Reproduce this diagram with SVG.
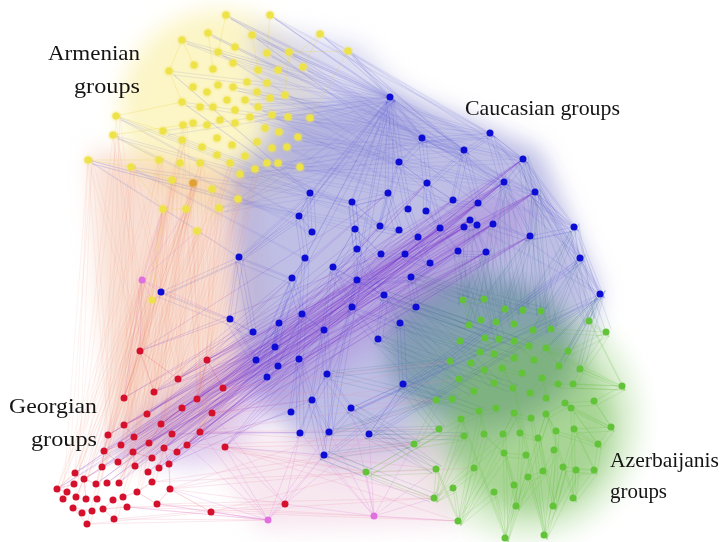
<svg xmlns="http://www.w3.org/2000/svg" xmlns:xlink="http://www.w3.org/1999/xlink" width="723" height="542" viewBox="0 0 723 542">
<defs>
<filter id="haze" x="-30%" y="-30%" width="160%" height="160%"><feGaussianBlur stdDeviation="11"/></filter>
<filter id="glow" x="-50%" y="-50%" width="200%" height="200%"><feGaussianBlur in="SourceGraphic" stdDeviation="1.6" result="b"/><feMerge><feMergeNode in="b"/><feMergeNode in="SourceGraphic"/></feMerge></filter>
<style>
.lbl{font-family:"Liberation Serif","Times New Roman",serif;font-size:22px;fill:#141414}
.e{fill:none;stroke-linecap:round}
.eA{stroke:#7474d6;stroke-opacity:.22;stroke-width:.7}
.eB{stroke:#ee8a70;stroke-opacity:.15;stroke-width:.7}
.eC{stroke:#7a2cc8;stroke-opacity:.22;stroke-width:.8}
.eD{stroke:#3a3ad0;stroke-opacity:.2;stroke-width:.7}
.eE{stroke:#3d6f8f;stroke-opacity:.22;stroke-width:.7}
.eF{stroke:#5cbc34;stroke-opacity:.28;stroke-width:.7}
.eR{stroke:#e02040;stroke-opacity:.3;stroke-width:.7}
.eG{stroke:#eb90a8;stroke-opacity:.3;stroke-width:.7}
.eH{stroke:#e080e0;stroke-opacity:.35;stroke-width:.7}
.eY{stroke:#e8d840;stroke-opacity:.4;stroke-width:.7}
.y circle{fill:#eee24a}
.b circle{fill:#0c0cd4}
.r circle{fill:#d4102c}
.g circle{fill:#62c238}
.p circle{fill:#e070e0}
</style>
</defs>
<rect width="723" height="542" fill="#ffffff"/>
<g id="haze" filter="url(#haze)">
<ellipse cx="220" cy="110" rx="100" ry="100" fill="#faf0a8" opacity=".65"/>
<polygon points="250,25 360,45 420,110 400,170 300,180 260,120" fill="#c4c4ea" opacity=".6"/>
<polygon points="90,150 250,170 270,300 230,420 120,470 100,300" fill="#f4c0a8" opacity=".5"/>
<polygon points="230,170 300,110 390,90 470,120 540,150 600,290 580,400 470,460 330,470 240,380" fill="#a4a4dc" opacity=".7"/>
<ellipse cx="525" cy="420" rx="115" ry="120" fill="#c0e4b0" opacity=".5"/>
<ellipse cx="480" cy="350" rx="95" ry="75" fill="#6a8ea0" opacity=".7"/>
<ellipse cx="530" cy="425" rx="85" ry="90" fill="#7cc060" opacity=".55"/>
<polygon points="200,440 440,430 460,525 260,530" fill="#f0d0e0" opacity=".5"/>
<polygon points="100,450 160,400 480,190 540,200 520,240 200,470" fill="#9a60d0" opacity=".28"/>
</g>
<g id="connectors">
<path id="pY" class="e eY" d="M226 15L218 52M270 15L267 53M182 40L194 65M208 33L213 69M252 35L258 70M320 34L303 67M348 51L310 118M169 71L182 102M116 116L163 131M113 135L159 160M88 160L131 167M131 167L172 180M163 209L186 209M197 231L219 208M152 300L163 209M289 52L285 95M182 40L169 71M116 116L182 102M113 135L183 125M88 160L159 160M131 167L163 209M348 51L289 52M320 34L278 70"/>
<path id="pA" class="e eA" d="M226 15L390 97M226 15L523 159M226 15L422 138M270 15L390 97M270 15L490 133M270 15L574 227M182 40L390 97M182 40L464 150M208 33L422 138M208 33L535 192M252 35L390 97M252 35L523 159M252 35L600 294M320 34L390 97M320 34L490 133M320 34L464 150M348 51L390 97M348 51L523 159M348 51L422 138M348 51L580 258M218 52L399 162M218 52L490 133M267 53L422 138M267 53L535 192M289 52L390 97M289 52L504 182M303 67L464 150M303 67L390 97M303 67L574 227M285 95L422 138M285 95L523 159M310 118L390 97M310 118L490 133M310 118L427 183M298 137L464 150M298 137L399 162M298 137L535 192M287 147L388 193M287 147L422 138M300 167L390 97M300 167L453 200M300 167L523 159M278 163L427 183M278 163L490 133M267 163L380 226M267 163L504 182M255 169L388 193M255 169L422 138M240 174L399 230M240 174L464 150M238 199L380 226M238 199L390 97M219 208L310 193M219 208L422 138M169 71L390 97M169 71L310 193M116 116L310 193M116 116L299 216M113 135L312 232M113 135L352 202M88 160L299 216M88 160L239 257M88 160L355 229M131 167L310 193M131 167L305 258M163 131L390 97M163 131L352 202M182 102L422 138M182 102L310 193M258 107L390 97M258 107L523 159M272 115L464 150M272 115L574 227M250 117L535 192M250 117L390 97M233 87L490 133M233 87L422 138M245 100L600 294M245 100L390 97"/>
<path id="pB" class="e eB" d="M140 351L193 183M140 351L163 209M140 351L142 280M140 351L88 160M178 379L186 209M178 379L219 208M178 379L172 180M178 379L131 167M154 392L197 231M154 392L159 160M154 392L193 183M154 392L113 135M124 398L163 209M124 398L142 280M124 398L182 140M124 398L152 300M207 360L238 199M207 360L212 189M207 360L255 169M207 360L200 163M197 399L219 208M197 399L193 183M197 399L240 174M197 399L183 125M147 414L172 180M147 414L186 209M147 414L116 116M147 414L230 163M124 425L152 300M124 425L197 231M124 425L131 167M124 425L163 209M108 435L142 280M108 435L193 183M108 435L88 160M108 435L159 160M161 424L212 189M161 424L163 209M161 424L182 140M161 424L238 199M200 432L197 231M200 432L219 208M200 432L255 169M200 432L186 209M134 437L172 180M134 437L113 135M134 437L193 183M134 437L230 163M121 445L163 209M121 445L152 300M121 445L200 163M104 451L142 280M104 451L186 209M104 451L116 116M102 467L193 183M102 467L131 167M102 467L197 231M75 473L142 280M75 473L163 209M75 473L88 160M84 479L172 180M84 479L152 300M84 479L182 140M74 484L193 183M74 484L113 135M57 489L142 280M57 489L159 160M57 489L163 209M63 499L186 209M63 499L88 160M73 508L197 231M73 508L131 167M87 524L163 209M87 524L172 180M114 519L193 183M114 519L219 208M96 484L142 280M96 484L200 163M119 483L212 189M119 483L183 125M152 482L238 199M152 482L197 231M137 492L186 209M137 492L240 174"/>
<path id="pC" class="e eC" d="M207 360L504 182M207 360L470 220M207 360L535 192M207 360L418 237M223 388L523 159M223 388L493 224M223 388L440 228M223 388L486 252M197 399L478 203M197 399L530 236M197 399L464 227M197 399L405 254M212 413L504 182M212 413L453 200M212 413L486 252M212 413L380 226M200 432L535 192M200 432L470 220M200 432L458 251M200 432L427 183M225 447L523 159M225 447L493 224M225 447L418 237M225 447L399 230M187 445L504 182M187 445L478 203M187 445L440 228M187 445L530 236M178 379L470 220M178 379L427 183M178 379L535 192M178 379L388 193M182 408L493 224M182 408L523 159M182 408L405 254M182 408L464 227M161 424L504 182M161 424L486 252M161 424L453 200M161 424L418 237M172 434L535 192M172 434L470 220M172 434L440 228M172 434L478 203M164 448L530 236M164 448L523 159M164 448L464 227M164 448L399 230M169 464L493 224M169 464L504 182M169 464L458 251M169 464L427 183M159 468L478 203M159 468L535 192M159 468L418 237M159 468L380 226M154 392L523 159M154 392L470 220M154 392L388 193M154 392L486 252M147 414L504 182M147 414L464 227M147 414L440 228M147 414L453 200M149 443L493 224M149 443L530 236M149 443L405 254M149 443L427 183M134 437L535 192M134 437L478 203M134 437L418 237M134 437L458 251M121 445L523 159M121 445L470 220M121 445L399 230M133 452L504 182M133 452L486 252M133 452L440 228M118 462L493 224M118 462L464 227M118 462L453 200M104 451L535 192M104 451L478 203M104 451L380 226M102 467L530 236M102 467L470 220M102 467L418 237M75 473L523 159M75 473L504 182M75 473L458 251M57 489L493 224M57 489L464 227M84 479L535 192M84 479L486 252M96 484L478 203M96 484L440 228M107 483L504 182M107 483L470 220M119 483L523 159M119 483L427 183M140 351L470 220M140 351L388 193M124 398L504 182M124 398L453 200M124 425L493 224M124 425L405 254M108 435L535 192M108 435L464 227M152 458L523 159M152 458L478 203M177 452L504 182M177 452L530 236M135 466L470 220M135 466L486 252M148 472L493 224M148 472L440 228M207 360L292 278M207 360L302 314M223 388L279 323M223 388L324 330M197 399L299 359M212 413L312 400M200 432L300 433M225 447L324 455M187 445L291 412M178 379L253 332M182 408L256 360M161 424L267 377M140 351L230 319M154 392L275 347M172 434L329 432M169 464L312 400"/>
<path id="pD" class="e eD" d="M390 97L422 138M390 97L399 162M390 97L388 193M390 97L310 193M390 97L352 202M390 97L464 150M422 138L490 133M422 138L464 150M422 138L427 183M422 138L399 162M422 138L504 182M490 133L523 159M490 133L464 150M490 133L535 192M490 133L504 182M523 159L535 192M523 159L574 227M523 159L504 182M523 159L600 294M535 192L574 227M535 192L580 258M535 192L530 236M535 192L600 294M574 227L580 258M574 227L600 294M574 227L530 236M464 150L453 200M464 150L478 203M464 150L427 183M399 162L408 209M399 162L380 226M399 162L427 183M427 183L426 211M427 183L440 228M427 183L453 200M504 182L493 224M504 182L478 203M504 182L530 236M388 193L380 226M388 193L399 230M388 193L352 202M310 193L352 202M310 193L299 216M310 193L312 232M310 193L239 257M352 202L355 229M352 202L357 249M352 202L380 226M299 216L312 232M299 216L305 258M299 216L239 257M355 229L357 249M355 229L333 267M355 229L381 254M357 249L357 280M357 249L333 267M357 249L384 295M239 257L230 319M239 257L253 332M239 257L292 278M305 258L292 278M305 258L302 314M305 258L279 323M333 267L352 307M333 267L324 330M333 267L357 280M292 278L302 314M292 278L256 360M292 278L275 347M357 280L352 307M357 280L384 295M357 280L411 277M302 314L324 330M302 314L299 359M302 314L278 366M279 323L275 347M279 323L267 377M279 323L256 360M352 307L327 374M352 307L378 339M352 307L400 323M324 330L327 374M324 330L312 400M324 330L299 359M299 359L291 412M299 359L312 400M299 359L300 433M327 374L351 408M327 374L329 432M327 374L312 400M312 400L329 432M312 400L324 455M312 400L300 433M351 408L369 434M351 408L329 432M351 408L403 384M384 295L416 307M384 295L400 323M384 295L378 339M411 277L416 307M411 277L430 263M411 277L458 251M400 323L403 384M400 323L378 339M403 384L369 434M403 384L351 408M230 319L253 332M230 319L256 360M230 319L161 292M161 292L239 257M390 97L299 216M390 97L305 258M390 97L324 455M600 294L403 384M600 294L369 434M580 258L403 384M580 258L324 455M426 211L440 228M408 209L418 237M470 220L486 252M493 224L530 236M453 200L478 203M405 254L430 263M381 254L405 254M458 251L486 252M464 227L477 225M440 228L458 251M418 237L430 263M380 226L399 230"/>
<path id="pE" class="e eE" d="M411 277L463 300M411 277L505 309M411 277L541 311M384 295L469 325M384 295L514 341M384 295L459 379M416 307L485 338M416 307L529 346M416 307L494 383M400 323L450 361M400 323L480 352M400 323L514 358M378 339L436 400M378 339L474 391M378 339L513 388M403 384L452 399M403 384L479 411M403 384L439 429M369 434L464 436M369 434L414 444M369 434L436 469M600 294L589 321M600 294L568 351M600 294L580 369M600 294L546 348M600 294L559 366M580 258L551 329M580 258L533 330M580 258L606 332M574 227L541 311M574 227L589 321M574 227L523 310M530 236L484 299M530 236L505 309M530 236L523 310M486 252L463 300M486 252L469 325M486 252L496 322M458 251L463 300M458 251L481 320M493 224L514 324M493 224L484 299M535 192L551 329M535 192L541 311M523 159L541 311M523 159L589 321M504 182L523 310M504 182L505 309M470 220L499 339M470 220L463 300M351 408L414 444M351 408L436 469M324 455L366 472M324 455L414 444M324 455L434 498M329 432L436 400M329 432L439 429M327 374L450 361M327 374L436 400"/>
<path id="pF" class="e eF" d="M458 521L494 492M458 521L504 453M458 521L474 468M458 521L514 413M458 521L479 411M458 521L436 469M505 538L514 485M505 538L526 455M505 538L494 492M505 538L546 414M505 538L503 434M505 538L461 419M544 535L528 477M544 535L554 450M544 535L563 467M544 535L531 418M544 535L576 470M544 535L513 388M434 498L474 468M434 498L464 436M434 498L503 434M434 498L436 469M434 498L461 419M516 506L528 477M516 506L543 471M516 506L504 453M516 506L520 433M553 506L563 467M553 506L556 431M553 506L574 429M553 506L538 438M573 498L576 470M573 498L594 470M573 498L571 408M573 498L546 414M622 386L589 321M622 386L580 369M622 386L573 384M622 386L594 401M622 386L558 384M622 386L546 348M611 427L594 401M611 427L571 408M611 427L598 444M611 427L565 403M611 427L574 429M606 332L589 321M606 332L568 351M606 332L551 329M606 332L580 369M598 444L574 429M598 444L556 431M598 444L594 470M598 444L571 408M594 470L576 470M594 470L563 467M594 470L574 429M366 472L414 444M366 472L436 469M366 472L434 498M366 472L439 429M414 444L439 429M414 444L464 436M414 444L436 400M414 444L461 419M436 400L452 399M436 400L459 379M436 400L474 391M436 400L450 361M463 300L484 299M463 300L469 325M463 300L481 320M505 309L496 322M505 309L514 324M505 309L523 310M541 311L533 330M541 311L551 329M485 338L499 339M485 338L494 354M485 338L471 363M514 341L529 346M514 341L514 358M514 341L534 360M546 348L568 351M546 348L559 366M546 348L534 360M459 379L484 370M459 379L474 391M459 379L452 399M502 368L522 373M502 368L513 388M502 368L494 383M542 378L558 384M542 378L546 398M542 378L530 393M479 411L496 408M479 411L484 434M479 411L461 419M514 413L531 418M514 413L520 433M514 413L503 434M546 414L556 431M546 414L538 438M546 414L565 403M504 453L526 455M504 453L514 485M504 453L484 434M543 471L554 450M543 471L528 477M543 471L538 438M458 521L453 488M453 488L434 498M474 468L484 434M520 433L538 438M580 369L573 384M594 401L565 403"/>
<path id="pR" class="e eR" d="M57 489L67 492M57 489L74 484M57 489L63 499M57 489L75 473M84 479L96 484M84 479L76 497M84 479L86 499M84 479L102 467M104 451L118 462M104 451L108 435M104 451L121 445M104 451L102 467M133 452L135 466M133 452L152 458M133 452L149 443M133 452L119 483M164 448L177 452M164 448L159 468M164 448L169 464M164 448L172 434M187 445L200 432M187 445L177 452M187 445L212 413M140 351L154 392M140 351L178 379M140 351L124 398M207 360L223 388M207 360L197 399M207 360L178 379M124 425L134 437M124 425L147 414M124 425L108 435M161 424L172 434M161 424L182 408M161 424L149 443M73 508L82 513M73 508L92 511M73 508L87 524M103 509L113 500M103 509L127 507M103 509L114 519M137 492L152 482M137 492L157 504M137 492L123 497M170 489L169 464M170 489L157 504M170 489L211 512"/>
<path id="pG" class="e eG" d="M225 447L414 444M225 447L436 469M225 447L366 472M225 447L434 498M225 447L458 521M211 512L366 472M211 512L434 498M211 512L458 521M170 489L414 444M170 489L436 400M170 489L366 472M170 489L285 504M157 504L434 498M157 504L458 521M157 504L268 520M200 432L436 400M200 432L439 429M200 432L414 444M212 413L459 379M212 413L450 361M212 413L436 400M187 445L464 436M187 445L366 472M127 507L285 504M127 507L268 520M127 507L374 516M114 519L268 520M114 519L285 504M87 524L268 520M87 524L211 512M152 482L414 444M152 482L474 468M223 388L450 361M223 388L436 400"/>
<path id="pH" class="e eH" d="M268 520L225 447M268 520L200 432M268 520L285 504M268 520L211 512M268 520L170 489M268 520L324 455M268 520L300 433M268 520L329 432M268 520L157 504M268 520L127 507M268 520L187 445M374 516L324 455M374 516L369 434M374 516L329 432M374 516L366 472M374 516L414 444M374 516L434 498M374 516L436 469M374 516L285 504M374 516L300 433M374 516L351 408M374 516L458 521M285 504L324 455M285 504L300 433M285 504L369 434M285 504L225 447M285 504L212 413M142 280L161 292M142 280L152 300M142 280L140 351M142 280L124 398M142 280L163 209M142 280L186 209M142 280L197 231M142 280L230 319"/>
<use xlink:href="#pD" transform="translate(4,3)"/>
<use xlink:href="#pD" transform="translate(-3,5)"/>
<use xlink:href="#pE" transform="translate(5,-3)"/>
<use xlink:href="#pE" transform="translate(-4,4)"/>
<use xlink:href="#pF" transform="translate(3,4)"/>
<use xlink:href="#pA" transform="translate(5,4)"/>
<use xlink:href="#pB" transform="translate(4,-2)"/>
</g>
<g id="armenian-nodes" class="y" filter="url(#glow)">
<circle cx="226" cy="15" r="3.6"/><circle cx="270" cy="15" r="3.6"/><circle cx="182" cy="40" r="3.6"/><circle cx="208" cy="33" r="3.6"/><circle cx="252" cy="35" r="3.6"/><circle cx="320" cy="34" r="3.6"/><circle cx="348" cy="51" r="3.6"/><circle cx="218" cy="52" r="3.6"/><circle cx="235" cy="47" r="3.6"/><circle cx="267" cy="53" r="3.6"/><circle cx="289" cy="52" r="3.6"/><circle cx="169" cy="71" r="3.6"/><circle cx="194" cy="65" r="3.6"/><circle cx="213" cy="69" r="3.6"/><circle cx="233" cy="63" r="3.6"/><circle cx="258" cy="70" r="3.6"/><circle cx="278" cy="70" r="3.6"/><circle cx="303" cy="67" r="3.6"/><circle cx="193" cy="87" r="3.6"/><circle cx="207" cy="92" r="3.6"/><circle cx="218" cy="85" r="3.6"/><circle cx="233" cy="87" r="3.6"/><circle cx="247" cy="82" r="3.6"/><circle cx="257" cy="92" r="3.6"/><circle cx="267" cy="83" r="3.6"/><circle cx="285" cy="95" r="3.6"/><circle cx="182" cy="102" r="3.6"/><circle cx="200" cy="107" r="3.6"/><circle cx="213" cy="107" r="3.6"/><circle cx="227" cy="100" r="3.6"/><circle cx="235" cy="110" r="3.6"/><circle cx="245" cy="100" r="3.6"/><circle cx="258" cy="107" r="3.6"/><circle cx="270" cy="98" r="3.6"/><circle cx="272" cy="115" r="3.6"/><circle cx="288" cy="117" r="3.6"/><circle cx="310" cy="118" r="3.6"/><circle cx="116" cy="116" r="3.6"/><circle cx="113" cy="135" r="3.6"/><circle cx="163" cy="131" r="3.6"/><circle cx="183" cy="125" r="3.6"/><circle cx="193" cy="123" r="3.6"/><circle cx="207" cy="125" r="3.6"/><circle cx="220" cy="120" r="3.6"/><circle cx="235" cy="123" r="3.6"/><circle cx="250" cy="117" r="3.6"/><circle cx="265" cy="128" r="3.6"/><circle cx="279" cy="132" r="3.6"/><circle cx="298" cy="137" r="3.6"/><circle cx="182" cy="140" r="3.6"/><circle cx="202" cy="147" r="3.6"/><circle cx="217" cy="138" r="3.6"/><circle cx="232" cy="145" r="3.6"/><circle cx="257" cy="142" r="3.6"/><circle cx="272" cy="148" r="3.6"/><circle cx="287" cy="147" r="3.6"/><circle cx="88" cy="160" r="3.6"/><circle cx="131" cy="167" r="3.6"/><circle cx="159" cy="160" r="3.6"/><circle cx="180" cy="163" r="3.6"/><circle cx="200" cy="163" r="3.6"/><circle cx="217" cy="155" r="3.6"/><circle cx="230" cy="163" r="3.6"/><circle cx="245" cy="156" r="3.6"/><circle cx="267" cy="163" r="3.6"/><circle cx="278" cy="163" r="3.6"/><circle cx="300" cy="167" r="3.6"/><circle cx="172" cy="180" r="3.6"/><circle cx="212" cy="189" r="3.6"/><circle cx="240" cy="174" r="3.6"/><circle cx="255" cy="169" r="3.6"/><circle cx="163" cy="209" r="3.6"/><circle cx="186" cy="209" r="3.6"/><circle cx="219" cy="208" r="3.6"/><circle cx="238" cy="199" r="3.6"/><circle cx="197" cy="231" r="3.6"/><circle cx="152" cy="300" r="3.3"/>
<circle cx="193" cy="183" r="3.6" style="fill:#e0a030"/>
</g>
<g id="caucasian-nodes" class="b">
<circle cx="390" cy="97" r="3.5"/><circle cx="422" cy="138" r="3.5"/><circle cx="490" cy="133" r="3.5"/><circle cx="464" cy="150" r="3.5"/><circle cx="523" cy="159" r="3.5"/><circle cx="399" cy="162" r="3.5"/><circle cx="427" cy="183" r="3.5"/><circle cx="504" cy="182" r="3.5"/><circle cx="388" cy="193" r="3.5"/><circle cx="535" cy="192" r="3.5"/><circle cx="453" cy="200" r="3.5"/><circle cx="478" cy="203" r="3.5"/><circle cx="408" cy="209" r="3.5"/><circle cx="426" cy="211" r="3.5"/><circle cx="470" cy="220" r="3.5"/><circle cx="380" cy="226" r="3.5"/><circle cx="399" cy="230" r="3.5"/><circle cx="440" cy="228" r="3.5"/><circle cx="464" cy="227" r="3.5"/><circle cx="477" cy="225" r="3.5"/><circle cx="493" cy="224" r="3.5"/><circle cx="574" cy="227" r="3.5"/><circle cx="418" cy="237" r="3.5"/><circle cx="530" cy="236" r="3.5"/><circle cx="381" cy="254" r="3.5"/><circle cx="405" cy="254" r="3.5"/><circle cx="458" cy="251" r="3.5"/><circle cx="486" cy="252" r="3.5"/><circle cx="580" cy="258" r="3.5"/><circle cx="430" cy="263" r="3.5"/><circle cx="310" cy="193" r="3.5"/><circle cx="352" cy="202" r="3.5"/><circle cx="299" cy="216" r="3.5"/><circle cx="355" cy="229" r="3.5"/><circle cx="312" cy="232" r="3.5"/><circle cx="357" cy="249" r="3.5"/><circle cx="239" cy="257" r="3.5"/><circle cx="305" cy="258" r="3.5"/><circle cx="333" cy="267" r="3.5"/><circle cx="161" cy="292" r="3.5"/><circle cx="292" cy="278" r="3.5"/><circle cx="357" cy="280" r="3.5"/><circle cx="230" cy="319" r="3.5"/><circle cx="302" cy="314" r="3.5"/><circle cx="279" cy="323" r="3.5"/><circle cx="352" cy="307" r="3.5"/><circle cx="253" cy="332" r="3.5"/><circle cx="324" cy="330" r="3.5"/><circle cx="275" cy="347" r="3.5"/><circle cx="256" cy="360" r="3.5"/><circle cx="299" cy="359" r="3.5"/><circle cx="278" cy="366" r="3.5"/><circle cx="267" cy="377" r="3.5"/><circle cx="327" cy="374" r="3.5"/><circle cx="312" cy="400" r="3.5"/><circle cx="351" cy="408" r="3.5"/><circle cx="291" cy="412" r="3.5"/><circle cx="300" cy="433" r="3.5"/><circle cx="329" cy="432" r="3.5"/><circle cx="324" cy="455" r="3.5"/><circle cx="411" cy="277" r="3.5"/><circle cx="384" cy="295" r="3.5"/><circle cx="416" cy="307" r="3.5"/><circle cx="400" cy="323" r="3.5"/><circle cx="378" cy="339" r="3.5"/><circle cx="403" cy="384" r="3.5"/><circle cx="369" cy="434" r="3.5"/><circle cx="600" cy="294" r="3.5"/>
</g>
<g id="georgian-nodes" class="r">
<circle cx="140" cy="351" r="3.5"/><circle cx="207" cy="360" r="3.5"/><circle cx="178" cy="379" r="3.5"/><circle cx="154" cy="392" r="3.5"/><circle cx="124" cy="398" r="3.5"/><circle cx="223" cy="388" r="3.5"/><circle cx="197" cy="399" r="3.5"/><circle cx="182" cy="408" r="3.5"/><circle cx="147" cy="414" r="3.5"/><circle cx="212" cy="413" r="3.5"/><circle cx="124" cy="425" r="3.5"/><circle cx="161" cy="424" r="3.5"/><circle cx="172" cy="434" r="3.5"/><circle cx="108" cy="435" r="3.5"/><circle cx="134" cy="437" r="3.5"/><circle cx="200" cy="432" r="3.5"/><circle cx="121" cy="445" r="3.5"/><circle cx="149" cy="443" r="3.5"/><circle cx="164" cy="448" r="3.5"/><circle cx="187" cy="445" r="3.5"/><circle cx="225" cy="447" r="3.5"/><circle cx="104" cy="451" r="3.5"/><circle cx="133" cy="452" r="3.5"/><circle cx="177" cy="452" r="3.5"/><circle cx="118" cy="462" r="3.5"/><circle cx="152" cy="458" r="3.5"/><circle cx="102" cy="467" r="3.5"/><circle cx="135" cy="466" r="3.5"/><circle cx="159" cy="468" r="3.5"/><circle cx="169" cy="464" r="3.5"/><circle cx="148" cy="472" r="3.5"/><circle cx="75" cy="473" r="3.5"/><circle cx="84" cy="479" r="3.5"/><circle cx="74" cy="484" r="3.5"/><circle cx="96" cy="484" r="3.5"/><circle cx="107" cy="483" r="3.5"/><circle cx="119" cy="483" r="3.5"/><circle cx="152" cy="482" r="3.5"/><circle cx="170" cy="489" r="3.5"/><circle cx="57" cy="489" r="3.5"/><circle cx="67" cy="492" r="3.5"/><circle cx="137" cy="492" r="3.5"/><circle cx="63" cy="499" r="3.5"/><circle cx="76" cy="497" r="3.5"/><circle cx="86" cy="499" r="3.5"/><circle cx="97" cy="499" r="3.5"/><circle cx="113" cy="500" r="3.5"/><circle cx="123" cy="497" r="3.5"/><circle cx="157" cy="504" r="3.5"/><circle cx="73" cy="508" r="3.5"/><circle cx="82" cy="513" r="3.5"/><circle cx="92" cy="511" r="3.5"/><circle cx="103" cy="509" r="3.5"/><circle cx="127" cy="507" r="3.5"/><circle cx="211" cy="512" r="3.5"/><circle cx="285" cy="504" r="3.5"/><circle cx="87" cy="524" r="3.5"/><circle cx="114" cy="519" r="3.5"/>
</g>
<g id="azerbaijani-nodes" class="g">
<circle cx="463" cy="300" r="3.5"/><circle cx="484" cy="299" r="3.5"/><circle cx="505" cy="309" r="3.5"/><circle cx="523" cy="310" r="3.5"/><circle cx="541" cy="311" r="3.5"/><circle cx="469" cy="325" r="3.5"/><circle cx="481" cy="320" r="3.5"/><circle cx="496" cy="322" r="3.5"/><circle cx="514" cy="324" r="3.5"/><circle cx="533" cy="330" r="3.5"/><circle cx="551" cy="329" r="3.5"/><circle cx="589" cy="321" r="3.5"/><circle cx="606" cy="332" r="3.5"/><circle cx="460" cy="341" r="3.5"/><circle cx="485" cy="338" r="3.5"/><circle cx="499" cy="339" r="3.5"/><circle cx="514" cy="341" r="3.5"/><circle cx="529" cy="346" r="3.5"/><circle cx="546" cy="348" r="3.5"/><circle cx="568" cy="351" r="3.5"/><circle cx="450" cy="361" r="3.5"/><circle cx="471" cy="363" r="3.5"/><circle cx="480" cy="352" r="3.5"/><circle cx="494" cy="354" r="3.5"/><circle cx="514" cy="358" r="3.5"/><circle cx="534" cy="360" r="3.5"/><circle cx="559" cy="366" r="3.5"/><circle cx="580" cy="369" r="3.5"/><circle cx="459" cy="379" r="3.5"/><circle cx="484" cy="370" r="3.5"/><circle cx="502" cy="368" r="3.5"/><circle cx="522" cy="373" r="3.5"/><circle cx="542" cy="378" r="3.5"/><circle cx="558" cy="384" r="3.5"/><circle cx="573" cy="384" r="3.5"/><circle cx="622" cy="386" r="3.5"/><circle cx="436" cy="400" r="3.5"/><circle cx="452" cy="399" r="3.5"/><circle cx="474" cy="391" r="3.5"/><circle cx="494" cy="383" r="3.5"/><circle cx="513" cy="388" r="3.5"/><circle cx="530" cy="393" r="3.5"/><circle cx="546" cy="398" r="3.5"/><circle cx="565" cy="403" r="3.5"/><circle cx="594" cy="401" r="3.5"/><circle cx="439" cy="429" r="3.5"/><circle cx="461" cy="419" r="3.5"/><circle cx="479" cy="411" r="3.5"/><circle cx="496" cy="408" r="3.5"/><circle cx="514" cy="413" r="3.5"/><circle cx="531" cy="418" r="3.5"/><circle cx="546" cy="414" r="3.5"/><circle cx="571" cy="408" r="3.5"/><circle cx="611" cy="427" r="3.5"/><circle cx="414" cy="444" r="3.5"/><circle cx="464" cy="436" r="3.5"/><circle cx="484" cy="434" r="3.5"/><circle cx="503" cy="434" r="3.5"/><circle cx="520" cy="433" r="3.5"/><circle cx="538" cy="438" r="3.5"/><circle cx="556" cy="431" r="3.5"/><circle cx="574" cy="429" r="3.5"/><circle cx="598" cy="444" r="3.5"/><circle cx="366" cy="472" r="3.5"/><circle cx="436" cy="469" r="3.5"/><circle cx="474" cy="468" r="3.5"/><circle cx="504" cy="453" r="3.5"/><circle cx="526" cy="455" r="3.5"/><circle cx="543" cy="471" r="3.5"/><circle cx="554" cy="450" r="3.5"/><circle cx="563" cy="467" r="3.5"/><circle cx="576" cy="470" r="3.5"/><circle cx="594" cy="470" r="3.5"/><circle cx="434" cy="498" r="3.5"/><circle cx="453" cy="488" r="3.5"/><circle cx="494" cy="492" r="3.5"/><circle cx="514" cy="485" r="3.5"/><circle cx="528" cy="477" r="3.5"/><circle cx="516" cy="506" r="3.5"/><circle cx="553" cy="506" r="3.5"/><circle cx="573" cy="498" r="3.5"/><circle cx="458" cy="521" r="3.5"/><circle cx="505" cy="538" r="3.5"/><circle cx="544" cy="535" r="3.5"/>
</g>
<g id="bridge-nodes" class="p">
<circle cx="142" cy="280" r="3.5"/><circle cx="268" cy="520" r="3.5"/><circle cx="374" cy="516" r="3.5"/>
</g>
<g id="labels">
<text class="lbl" x="48" y="60" textLength="92" lengthAdjust="spacingAndGlyphs">Armenian</text>
<text class="lbl" x="74" y="93" textLength="66" lengthAdjust="spacingAndGlyphs">groups</text>
<text class="lbl" x="465" y="115" textLength="155" lengthAdjust="spacingAndGlyphs">Caucasian groups</text>
<text class="lbl" x="9" y="413" textLength="88" lengthAdjust="spacingAndGlyphs">Georgian</text>
<text class="lbl" x="31" y="446" textLength="66" lengthAdjust="spacingAndGlyphs">groups</text>
<text class="lbl" x="610" y="467" textLength="109" lengthAdjust="spacingAndGlyphs">Azerbaijanis</text>
<text class="lbl" x="610" y="498" textLength="57" lengthAdjust="spacingAndGlyphs">groups</text>
</g>
</svg>
